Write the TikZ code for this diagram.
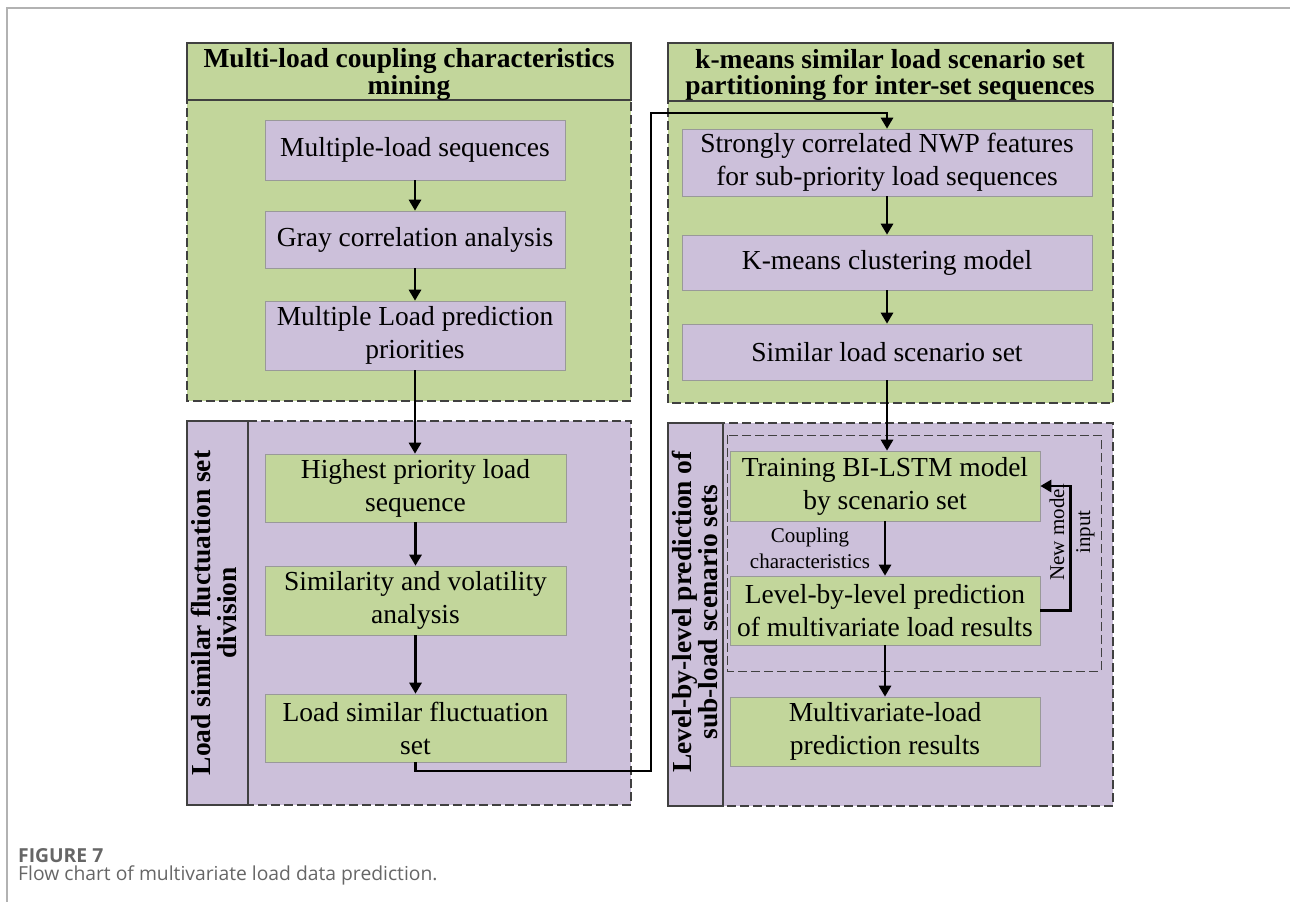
\documentclass[tikz,border=0pt]{standalone}
\usepackage{fontspec}
\setmainfont{Liberation Serif}
\newfontfamily\capfont{Open Sans}
\usetikzlibrary{arrows.meta,calc}
\definecolor{lgreen}{HTML}{C2D69B}
\definecolor{lpurple}{HTML}{CCC0DA}
\begin{document}
\begin{tikzpicture}[x=1pt,y=-1pt,
  panel/.style={draw=black!75, line width=1.3pt, dash pattern=on 9pt off 4pt},
  band/.style={draw=black!75, line width=1.1pt},
  box/.style={draw=black!40, line width=0.6pt, align=center, inner sep=2pt, font=\fontsize{27.5}{33}\selectfont},
  gbox/.style={box, fill=lgreen},
  pbox/.style={box, fill=lpurple},
  ttl/.style={font=\fontsize{27.5}{26.5}\selectfont\bfseries, align=center, inner sep=0pt},
  arr/.style={-{Triangle[length=11pt,width=12pt]}, line width=2.8pt},
  lbl/.style={font=\fontsize{21}{26}\selectfont, align=center, inner sep=0pt},
  captext/.style={anchor=base west, inner sep=0pt, text=black!60, font=\capfont\fontsize{19.3}{22}\selectfont}
]
\useasboundingbox (0,0) rectangle (1290,902);
\draw[black!30, line width=1.5pt] (1290,8) -- (7,8) -- (7,902);

% ---------- left top panel
\fill[lgreen] (187,43) rectangle (631,401);
\draw[panel] (187,43) rectangle (631,401);
\draw[band, fill=lgreen] (187,43) rectangle (631,100);
\node[ttl] (t1) at (409,74.5) {Multi-load coupling characteristics\\mining};
\node[pbox, minimum width=300pt, minimum height=60pt] (mls) at (415,150) {Multiple-load sequences};
\node[pbox, minimum width=300pt, minimum height=57pt] (gca) at (415,239.5) {Gray correlation analysis};
\node[pbox, minimum width=300pt, minimum height=69pt] (mlp) at (415,335.5) {Multiple Load prediction\\priorities};

% ---------- left bottom panel
\fill[lpurple] (187,421) rectangle (631,805);
\draw[panel] (187,421) rectangle (631,805);
\draw[band] (187,421) rectangle (248,805);
\node[ttl, rotate=90] (t2) at (214,613) {Load similar fluctuation set\\division};
\node[gbox, minimum width=301pt, minimum height=68pt] (hpl) at (415.5,488) {Highest priority load\\sequence};
\node[gbox, minimum width=301pt, minimum height=69pt] (sva) at (415.5,600.5) {Similarity and volatility\\analysis};
\node[gbox, minimum width=301pt, minimum height=68pt] (lsf) at (415.5,728) {Load similar fluctuation\\set};

% ---------- right top panel
\fill[lgreen] (668,43) rectangle (1113,403);
\draw[panel] (668,43) rectangle (1113,403);
\draw[band, fill=lgreen] (668,43) rectangle (1113,101);
\node[ttl] (t3) at (890,75) {k-means similar load scenario set\\partitioning for inter-set sequences};
\node[pbox, minimum width=410pt, minimum height=67pt] (nwp) at (887,162.5) {Strongly correlated NWP features\\for sub-priority load sequences};
\node[pbox, minimum width=410pt, minimum height=55pt] (kmc) at (887,262.5) {K-means clustering model};
\node[pbox, minimum width=410pt, minimum height=56pt] (sls) at (887,352) {Similar load scenario set};

% ---------- right bottom panel
\fill[lpurple] (668,423) rectangle (1113,806);
\draw[panel] (668,423) rectangle (1113,806);
\draw[band] (668,423) rectangle (723,806);
\node[ttl, rotate=90] (t4) at (695,612) {Level-by-level prediction of\\sub-load scenario sets};
\draw[panel, line width=1pt] (727,435) rectangle (1101,671);
\node[gbox, minimum width=310pt, minimum height=70pt] (train) at (885,486) {Training BI-LSTM model\\by scenario set};
\node[gbox, minimum width=310pt, minimum height=69pt] (lvl) at (885,610.5) {Level-by-level prediction\\of multivariate load results};
\node[gbox, minimum width=310pt, minimum height=69pt] (mlr) at (885,731.5) {Multivariate-load\\prediction results};

% ---------- connectors
\draw[arr] (mls) -- (gca);
\draw[arr] (gca) -- (mlp);
\draw[arr] (mlp.south) -- (mlp.south |- hpl.north);
\draw[arr] (hpl) -- (sva);
\draw[arr] (sva) -- (lsf);
\coordinate (c1) at (651,771);
\coordinate (c2) at (651,113);
\draw[arr] (lsf.south) |- (c1) -- (c2) -| (nwp.north);
\draw[arr] (nwp.south) -- (nwp.south |- kmc.north);
\draw[arr] (kmc) -- (sls);
\draw[arr] (sls.south) -- (sls.south |- train.north);
\draw[arr] (train) -- (lvl);
\draw[arr] (lvl) -- (mlr);
\draw[arr] (lvl.east) -- ++(30,0) |- (train.east);

\node[lbl] (cpl) at (810,548) {Coupling\\characteristics};
\node[lbl, rotate=90] (nmi) at (1072,532) {New model\\input};

% ---------- caption
\node[captext, font=\capfont\bfseries\fontsize{19.3}{22}\selectfont] (cap1) at (18,862) {FIGURE 7};
\node[captext] (cap2) at (18,880) {Flow chart of multivariate load data prediction.};
\end{tikzpicture}
\end{document}
